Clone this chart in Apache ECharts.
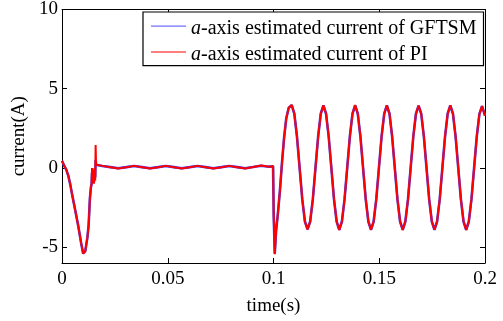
<!DOCTYPE html>
<html>
<head>
<meta charset="utf-8">
<script src="https://cdn.jsdelivr.net/npm/echarts@6/dist/echarts.min.js"></script>
<style>html,body{margin:0;padding:0;background:#fff;}#c{width:503px;height:321px;}</style>
</head>
<body>
<div id="c"></div>
<script>
// time (s)
var time = [
  0, 0.001, 0.002, 0.003, 0.004, 0.0046, 0.006, 0.0076, 0.009, 0.010, 0.0104, 0.011, 0.012, 0.0126, 0.0132, 0.0137,
  0.0140, 0.0142, 0.0145, 0.0148, 0.0151, 0.0154, 0.0157, 0.0159, 0.0161, 0.0165, 0.0170,
  0.0191, 0.0229, 0.0266, 0.0304, 0.0341, 0.0379, 0.0416, 0.0454, 0.0491, 0.0529, 0.0566, 0.0604, 0.0641, 0.0679,
  0.0716, 0.0754, 0.0791, 0.0829, 0.0866, 0.0904, 0.0941, 0.0979, 0.0998,
  0.1001, 0.1006, 0.1012, 0.1020, 0.1030, 0.1040, 0.1050, 0.1060, 0.1072, 0.1086,
  0.10985, 0.1111, 0.11235, 0.1136, 0.11485, 0.1161, 0.11735, 0.1186, 0.11985, 0.1211, 0.12235, 0.1236,
  0.12485, 0.1261, 0.12735, 0.1286, 0.12985, 0.1311, 0.13235, 0.1336, 0.13485, 0.1361, 0.13735, 0.1386,
  0.13985, 0.1411, 0.14235, 0.1436, 0.14485, 0.1461, 0.14735, 0.1486, 0.14985, 0.1511, 0.15235, 0.1536,
  0.15485, 0.1561, 0.15735, 0.1586, 0.15985, 0.1611, 0.16235, 0.1636, 0.16485, 0.1661, 0.16735, 0.1686,
  0.16985, 0.1711, 0.17235, 0.1736, 0.17485, 0.1761, 0.17735, 0.1786, 0.17985, 0.1811, 0.18235, 0.1836,
  0.18485, 0.1861, 0.18735, 0.1886, 0.18985, 0.1911, 0.19235, 0.1936, 0.19485, 0.1961, 0.19735, 0.1986,
  0.2
];
// a-axis estimated current of PI (A)
var currentPI = [
  0.45, 0.15, -0.1, -0.5, -1.1, -1.55, -2.5, -3.6, -4.7, -5.4, -5.5, -5.25, -4.4, -3.6, -1.9, -1.2,
  -1.0, 0.0, -0.9, -0.1, -1.0, 0.0, -0.8, 1.45, 0.2, 0.3, 0.15,
  0.13, 0.05, -0.03, 0.05, 0.13, 0.05, -0.03, 0.05, 0.13, 0.05, -0.03, 0.05, 0.13, 0.05,
  -0.03, 0.05, 0.13, 0.05, -0.03, 0.06, 0.16, 0.08, 0.12,
  -3.0, -5.45, -4.0, -3.0, -1.5, 0.3, 1.9, 3.1, 3.8, 3.98,
  3.42, 1.97, 0, -1.97, -3.38, -3.88, -3.38, -1.97, 0, 1.97, 3.42, 3.95,
  3.42, 1.97, 0, -1.97, -3.38, -3.92, -3.38, -1.97, 0, 1.97, 3.42, 3.97,
  3.42, 1.97, 0, -1.97, -3.38, -3.9, -3.38, -1.97, 0, 1.97, 3.42, 3.95,
  3.42, 1.97, 0, -1.97, -3.38, -3.92, -3.38, -1.97, 0, 1.97, 3.42, 3.93,
  3.42, 1.97, 0, -1.97, -3.38, -3.9, -3.38, -1.97, 0, 1.97, 3.42, 3.95,
  3.42, 1.97, 0, -1.97, -3.38, -3.92, -3.38, -1.97, 0, 1.97, 3.4, 3.9,
  3.3
];
// a-axis estimated current of GFTSM (A)
var currentGFTSM = [
  0.45, 0.15, -0.1, -0.5, -1.1, -1.55, -2.5, -3.6, -4.7, -5.4, -5.48, -5.25, -4.4, -3.6, -1.9, -1.2,
  -1.0, -0.3, -0.8, -0.2, -0.9, -0.1, -0.6, 0.5, 0.2, 0.25, 0.12,
  0.12, 0.05, -0.02, 0.05, 0.12, 0.05, -0.02, 0.05, 0.12, 0.05, -0.02, 0.05, 0.12, 0.05,
  -0.02, 0.05, 0.12, 0.05, -0.02, 0.06, 0.14, 0.08, 0.1,
  -3.0, -5.4, -4.0, -3.0, -1.5, 0.3, 1.9, 3.1, 3.8, 3.96,
  3.42, 1.97, 0, -1.97, -3.38, -3.88, -3.38, -1.97, 0, 1.97, 3.42, 3.94,
  3.42, 1.97, 0, -1.97, -3.38, -3.9, -3.38, -1.97, 0, 1.97, 3.42, 3.95,
  3.42, 1.97, 0, -1.97, -3.38, -3.9, -3.38, -1.97, 0, 1.97, 3.42, 3.94,
  3.42, 1.97, 0, -1.97, -3.38, -3.9, -3.38, -1.97, 0, 1.97, 3.42, 3.93,
  3.42, 1.97, 0, -1.97, -3.38, -3.9, -3.38, -1.97, 0, 1.97, 3.42, 3.94,
  3.42, 1.97, 0, -1.97, -3.38, -3.9, -3.38, -1.97, 0, 1.97, 3.4, 3.9,
  3.3
];
var yTicks = [-5, 0, 5, 10];
var seriesNames = ['a-axis estimated current of GFTSM', 'a-axis estimated current of PI'];

function pairs(vals) {
  var out = [];
  for (var i = 0; i < time.length; i++) out.push([time[i], vals[i]]);
  return out;
}

var FONT = "'Liberation Serif', 'Times New Roman', serif";
var chart = echarts.init(document.getElementById('c'), null, {renderer: 'canvas'});

function tickStyle(extra) {
  var t = {show: true, inside: true, length: 5, lineStyle: {color: '#000', width: 1}};
  if (extra) t.customValues = extra;
  return t;
}
var lineStyleAxis = {show: true, onZero: false, lineStyle: {color: '#000', width: 1}};

chart.setOption({
  animation: false,
  backgroundColor: '#fff',
  grid: {left: 62, right: 18, top: 5, bottom: 50, containLabel: false},
  legend: {
    orient: 'vertical',
    left: 143,
    top: 12,
    padding: [6.6, 7, 1, 8],
    itemGap: 6,
    itemWidth: 35,
    itemHeight: 14,
    borderColor: '#000',
    borderWidth: 1.2,
    backgroundColor: '#fff',
    data: [
      {name: seriesNames[0], icon: 'path://M0,0L0,0M0,3.8H35V5.1H0ZM0,14L0,14', itemStyle: {color: '#6f6fff'}},
      {name: seriesNames[1], icon: 'path://M0,0L0,0M0,3.9H35V5H0ZM0,14L0,14', itemStyle: {color: '#ff0000'}}
    ],
    formatter: function (name) {
      return '{i|a}' + name.slice(1);
    },
    textStyle: {
      fontFamily: FONT, fontSize: 20, color: '#000',
      rich: {i: {fontFamily: FONT, fontSize: 20, fontStyle: 'italic', color: '#000'}}
    }
  },
  xAxis: [
    {
      type: 'value', min: 0, max: 0.2, interval: 0.05, position: 'bottom',
      name: 'time(s)', nameLocation: 'middle', nameGap: 34,
      nameTextStyle: {fontFamily: FONT, fontSize: 19, color: '#000'},
      axisLabel: {fontFamily: FONT, fontSize: 19, color: '#000', margin: 7},
      axisLine: lineStyleAxis, axisTick: tickStyle(), splitLine: {show: false}
    },
    {
      type: 'value', min: 0, max: 0.2, interval: 0.05, position: 'top',
      axisLabel: {show: false},
      axisLine: lineStyleAxis, axisTick: tickStyle(), splitLine: {show: false}
    }
  ],
  yAxis: [
    {
      type: 'value', min: -6, max: 10, position: 'left',
      name: 'current(A)', nameLocation: 'middle', nameGap: 19, nameRotate: 90,
      nameTextStyle: {fontFamily: FONT, fontSize: 19, color: '#000'},
      axisLabel: {fontFamily: FONT, fontSize: 19, color: '#000', margin: 4, customValues: yTicks},
      axisLine: lineStyleAxis, axisTick: tickStyle(yTicks), splitLine: {show: false}
    },
    {
      type: 'value', min: -6, max: 10, position: 'right',
      axisLabel: {show: false, customValues: yTicks},
      axisLine: lineStyleAxis, axisTick: tickStyle(yTicks), splitLine: {show: false}
    }
  ],
  series: [
    {
      name: seriesNames[0], type: 'line', xAxisIndex: 0, yAxisIndex: 0,
      data: pairs(currentGFTSM), symbol: 'none', showSymbol: false,
      lineStyle: {color: '#3b3bff', width: 2.6}, itemStyle: {color: '#6f6fff'}, z: 2
    },
    {
      name: seriesNames[1], type: 'line', xAxisIndex: 0, yAxisIndex: 0,
      data: pairs(currentPI), symbol: 'none', showSymbol: false,
      lineStyle: {color: '#ff0000', width: 2}, itemStyle: {color: '#ff0000'}, z: 3
    }
  ]
});
</script>
</body>
</html>
